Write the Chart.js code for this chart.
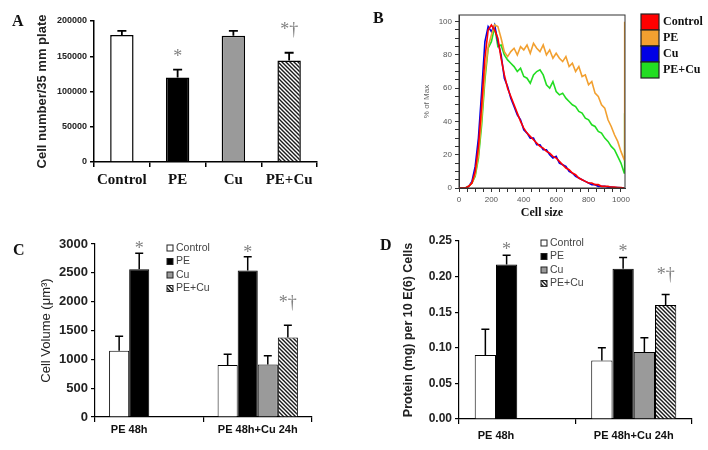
<!DOCTYPE html>
<html>
<head>
<meta charset="utf-8">
<script src="https://cdn.jsdelivr.net/npm/chart.js@4.4.1/dist/chart.umd.min.js"></script>
<style>
  body { margin: 0; background: #fff; }
  #wrap { position: relative; width: 708px; height: 450px; overflow: hidden; }
  #wrap canvas { position: absolute; }
  .tag { position: absolute; font: bold 16px 'Liberation Serif', serif; line-height: 16px; color: #111; }
</style>
</head>
<body>
<div id="wrap">
  <canvas id="chartA" width="354" height="225" style="left:0;top:0"></canvas>
  <canvas id="chartB" width="354" height="225" style="left:354px;top:0"></canvas>
  <canvas id="chartC" width="354" height="225" style="left:0;top:225px"></canvas>
  <canvas id="chartD" width="354" height="225" style="left:354px;top:225px"></canvas>
  <div class="tag" style="left:12px;top:13px">A</div>
  <div class="tag" style="left:373px;top:10px">B</div>
  <div class="tag" style="left:13px;top:242px">C</div>
  <div class="tag" style="left:380px;top:237px">D</div>
</div>
<script>
// panel A: cell number
const groupsA = ['Control', 'PE', 'Cu', 'PE+Cu'];
const cellNumber = [180000, 120000, 179000, 144000];
const cellNumberErr = [6000, 11000, 7000, 11000];
const cellNumberMarks = ['', '*', '', '*†'];
const cellNumberTicks = [0, 50000, 100000, 150000, 200000];

// panel B: flow cytometry histogram (% of max)
const histSize = [0,20,40,60,80,100,120,140,160,180,200,220,240,260,280,300,320,340,360,380,400,420,440,460,480,500,520,540,560,580,600,620,640,660,680,700,720,740,760,780,800,820,840,860,880,900,920,940,960,980,1000,1020,1023];
const histControl = [0,0,0,1,3,10,25,50,78,95,98,95,90,78,68,60,55,50,45,40,36,33,31,29,27,25,24,22,21,19,18,16,14,12,11,9,8,6,5,4,3,3,2,2,1,1,1,0.5,0.5,0.3,0.2,0,0];
const histPE = [0,0,0,1,3,8,20,42,68,85,92,98,97,90,82,79,82,84,80,85,83,86,81,87,84,82,86,80,83,78,81,78,76,79,73,75,70,73,67,68,62,64,57,55,50,48,41,37,32,28,22,17,100];
const histCu = [0,0,0,1,4,13,30,58,88,97,94,98,88,80,66,61,54,49,44,41,35,33,30,30,26,26,23,23,20,18,19,15,14,13,10,9,7,6,5,4,3,2,2,1,1,1,0.5,0.5,0.3,0.2,0.1,0,0];
const histPECu = [0,0,0,1,3,7,18,38,65,84,88,97,85,86,80,77,75,73,70,72,67,66,63,68,70,71,68,62,60,64,58,56,57,54,52,50,49,46,45,42,41,38,37,34,33,30,28,25,23,19,15,9,45];
const histTicksX = [0, 200, 400, 600, 800, 1000];
const histTicksY = [0, 20, 40, 60, 80, 100];

// panels C and D: two treatment groups, four series
const groupsCD = ['PE 48h', 'PE 48h+Cu 24h'];
const seriesNames = ['Control', 'PE', 'Cu', 'PE+Cu'];

const volControl = [1150, 900];
const volPE = [2560, 2540];
const volCu = [null, 910];
const volPECu = [null, 1380];
const volControlErr = [250, 190];
const volPEErr = [280, 240];
const volCuErr = [null, 150];
const volPECuErr = [null, 210];

const protControl = [0.09, 0.082];
const protPE = [0.217, 0.211];
const protCu = [null, 0.094];
const protPECu = [null, 0.16];
const protControlErr = [0.036, 0.018];
const protPEErr = [0.013, 0.016];
const protCuErr = [null, 0.02];
const protPECuErr = [null, 0.015];

const peMarks = ['*', '*'];
const peCuMarks = [null, '*†'];

const SANS = "'Liberation Sans', Arial, sans-serif";
const SERIF = "'Liberation Serif', 'Times New Roman', serif";

function hatch() {
  const c = document.createElement('canvas');
  c.width = 4; c.height = 4;
  const g = c.getContext('2d');
  g.fillStyle = '#fff';
  g.fillRect(0, 0, 4, 4);
  g.strokeStyle = '#1a1a1a';
  g.lineWidth = 1.4;
  g.beginPath();
  g.moveTo(-1, -1); g.lineTo(5, 5);
  g.moveTo(-1, 3); g.lineTo(1, 5);
  g.moveTo(3, -1); g.lineTo(5, 1);
  g.stroke();
  return g.createPattern(c, 'repeat');
}
const hatchFill = hatch();

// upward error bars plus significance marks
const errorBars = {
  id: 'errorBars',
  afterDatasetsDraw(chart, args, opts) {
    const ctx = chart.ctx, y = chart.scales.y;
    chart.data.datasets.forEach((ds, i) => {
      if (!ds.errors) return;
      chart.getDatasetMeta(i).data.forEach((bar, j) => {
        const v = ds.data[j], e = ds.errors[j];
        if (v == null || e == null) return;
        const top = y.getPixelForValue(v + e);
        ctx.save();
        ctx.strokeStyle = '#000';
        ctx.lineWidth = opts.width;
        ctx.beginPath();
        ctx.moveTo(bar.x, bar.y);
        ctx.lineTo(bar.x, top);
        ctx.moveTo(bar.x - opts.cap, top);
        ctx.lineTo(bar.x + opts.cap, top);
        ctx.stroke();
        const m = ds.marks && ds.marks[j];
        if (m) {
          ctx.fillStyle = '#808080';
          ctx.font = opts.markFont;
          ctx.textAlign = 'center';
          ctx.textBaseline = 'alphabetic';
          ctx.fillText(m, bar.x, top + (m.includes('†') ? opts.daggerOffset : opts.starOffset));
        }
        ctx.restore();
      });
    });
  }
};

// category labels centred under the bars that are present
const groupNames = {
  id: 'groupNames',
  afterDraw(chart, args, opts) {
    if (!opts.show) return;
    const ctx = chart.ctx, x = chart.scales.x;
    ctx.save();
    ctx.font = opts.font;
    ctx.fillStyle = '#111';
    ctx.textAlign = 'center';
    ctx.textBaseline = 'middle';
    chart.data.labels.forEach((lab, j) => {
      let lo = Infinity, hi = -Infinity;
      chart.data.datasets.forEach((ds, i) => {
        if (ds.data[j] == null) return;
        const b = chart.getDatasetMeta(i).data[j].getProps(['x', 'width'], true);
        lo = Math.min(lo, b.x - b.width / 2);
        hi = Math.max(hi, b.x + b.width / 2);
      });
      ctx.fillText(lab, (lo + hi) / 2, x.top + opts.offset);
    });
    ctx.restore();
  }
};

// small square legend drawn at a fixed spot
const boxLegend = {
  id: 'boxLegend',
  afterDraw(chart, args, opts) {
    if (!opts.show) return;
    const ctx = chart.ctx;
    ctx.save();
    ctx.font = opts.font;
    ctx.textBaseline = 'middle';
    ctx.textAlign = 'left';
    chart.data.datasets.forEach((ds, i) => {
      const yy = opts.y + i * opts.row;
      ctx.fillStyle = opts.useLine ? ds.borderColor : ds.backgroundColor;
      ctx.fillRect(opts.x, yy - opts.h / 2, opts.w, opts.h);
      ctx.strokeStyle = opts.edge;
      ctx.lineWidth = opts.edgeWidth;
      ctx.strokeRect(opts.x, yy - opts.h / 2, opts.w, opts.h);
      ctx.fillStyle = opts.color;
      ctx.fillText(ds.label, opts.x + opts.w + opts.gap, yy + opts.textDy);
    });
    ctx.restore();
  }
};

const frameBox = {
  id: 'frameBox',
  afterDraw(chart, args, opts) {
    if (!opts.show) return;
    const a = chart.chartArea, ctx = chart.ctx;
    ctx.save();
    ctx.strokeStyle = '#333';
    ctx.lineWidth = 1;
    ctx.strokeRect(a.left, a.top, a.right - a.left, a.bottom - a.top);
    ctx.restore();
  }
};

Chart.register(errorBars, groupNames, boxLegend, frameBox);

function fixWidth(w) {
  return function (s) { s.width = w; s.paddingTop = 0; s.paddingBottom = 0; };
}
function fixHeight(h) {
  return function (s) { s.height = h; s.paddingLeft = 0; s.paddingRight = 0; };
}
// labelled ticks plus unlabelled minor ticks in between
function withMinor(major, parts) {
  return function (s) {
    const out = [];
    for (let k = 0; k < major.length - 1; k++) {
      const a = major[k], b = major[k + 1];
      for (let p = 0; p < parts; p++) out.push({ value: a + (b - a) * p / parts });
    }
    out.push({ value: major[major.length - 1] });
    s.ticks = out;
  };
}

// ---------- A ----------
new Chart(document.getElementById('chartA'), {
  type: 'bar',
  data: {
    labels: groupsA,
    datasets: [{
      data: cellNumber,
      errors: cellNumberErr,
      marks: cellNumberMarks,
      backgroundColor: ['#ffffff', '#000000', '#9a9a9a', hatchFill],
      borderColor: '#000',
      borderWidth: 1.5,
      barPercentage: 0.42,
      categoryPercentage: 1
    }]
  },
  options: {
    responsive: false,
    animation: false,
    layout: { padding: { left: 0, top: 21, right: 37, bottom: 33 } },
    plugins: {
      legend: { display: false },
      tooltip: { enabled: false },
      errorBars: { width: 1.8, cap: 4.5, markFont: '18px ' + SERIF, starOffset: -8, daggerOffset: -18 }
    },
    scales: {
      x: {
        afterFit: fixHeight(30),
        grid: { drawOnChartArea: false, tickLength: 5, color: '#000', lineWidth: 1.5 },
        border: { color: '#000', width: 1.5 },
        ticks: { color: '#111', padding: 4, maxRotation: 0, autoSkip: false, font: { family: SERIF, size: 15, weight: 'bold' } }
      },
      y: {
        min: 0, max: 200000,
        afterFit: fixWidth(94),
        afterBuildTicks: s => { s.ticks = cellNumberTicks.map(v => ({ value: v })); },
        grid: { drawOnChartArea: false, tickLength: 4, color: '#000', lineWidth: 1.5 },
        border: { color: '#000', width: 1.5 },
        ticks: { color: '#222', padding: 3, font: { family: SANS, size: 9, weight: 'bold' }, callback: v => String(v) },
        title: { display: true, text: 'Cell number/35 mm plate', color: '#222', padding: { top: 35, bottom: 0 }, font: { family: SANS, size: 13, weight: 'bold' } }
      }
    }
  }
});

// ---------- B ----------
function pts(ys) { return histSize.map((x, i) => ({ x: x, y: ys[i] })); }
new Chart(document.getElementById('chartB'), {
  type: 'line',
  data: {
    datasets: [
      { label: 'Control', data: pts(histControl), borderColor: '#ff0000' },
      { label: 'PE', data: pts(histPE), borderColor: '#f2a030' },
      { label: 'Cu', data: pts(histCu), borderColor: '#0000e6' },
      { label: 'PE+Cu', data: pts(histPECu), borderColor: '#22dd22' }
    ]
  },
  options: {
    responsive: false,
    animation: false,
    elements: { point: { radius: 0 }, line: { borderWidth: 1.6, tension: 0 } },
    layout: { padding: { left: 0, top: 15, right: 83, bottom: 0 } },
    plugins: {
      legend: { display: false },
      tooltip: { enabled: false },
      frameBox: { show: true },
      boxLegend: { show: true, useLine: true, x: 287, y: 22, row: 16, w: 18, h: 16, gap: 4, textDy: 0,
        edge: '#222', edgeWidth: 1.2, color: '#111', font: 'bold 12px ' + SERIF }
    },
    scales: {
      x: {
        type: 'linear', min: 0, max: 1025,
        afterFit: fixHeight(37),
        afterBuildTicks: withMinor(histTicksX, 4),
        grid: { drawOnChartArea: false, tickLength: 4, color: '#333' },
        border: { color: '#333' },
        ticks: { color: '#555', padding: 3, maxRotation: 0, autoSkip: false, font: { family: SANS, size: 8 },
          callback: v => (histTicksX.includes(v) ? String(v) : '') },
        title: { display: true, text: 'Cell size', color: '#111', padding: { top: 0, bottom: 5 }, font: { family: SERIF, size: 12, weight: 'bold' } }
      },
      y: {
        min: 0, max: 104,
        afterFit: fixWidth(105),
        afterBuildTicks: withMinor(histTicksY, 4),
        grid: { drawOnChartArea: false, tickLength: 4, color: '#333' },
        border: { color: '#333' },
        ticks: { color: '#555', padding: 3, autoSkip: false, font: { family: SANS, size: 8 },
          callback: v => (histTicksY.includes(v) ? String(v) : '') },
        title: { display: true, text: '% of Max', color: '#666', padding: { top: 68, bottom: 0 }, font: { family: SANS, size: 8 } }
      }
    }
  }
});

// ---------- C and D ----------
function groupedBars(canvasId, vals, errs, cfg) {
  const fills = ['#ffffff', '#000000', '#9a9a9a', hatchFill];
  const marks = [null, peMarks, null, peCuMarks];
  new Chart(document.getElementById(canvasId), {
    type: 'bar',
    data: {
      labels: groupsCD,
      datasets: seriesNames.map((name, i) => ({
        label: name,
        data: vals[i],
        errors: errs[i],
        marks: marks[i],
        backgroundColor: fills[i],
        borderColor: '#000',
        borderWidth: 1,
        barPercentage: 1,
        categoryPercentage: cfg.catPct
      }))
    },
    options: {
      responsive: false,
      animation: false,
      layout: { padding: cfg.padding },
      plugins: {
        legend: { display: false },
        tooltip: { enabled: false },
        errorBars: { width: 1.5, cap: 4, markFont: '18px ' + SERIF, starOffset: cfg.starOffset, daggerOffset: cfg.daggerOffset },
        groupNames: { show: true, font: 'bold 11px ' + SANS, offset: cfg.labelOffset },
        boxLegend: { show: true, useLine: false, x: cfg.legendX, y: cfg.legendY, row: 13.5, w: 6, h: 6, gap: 3, textDy: 0,
          edge: '#222', edgeWidth: 1, color: '#444', font: '10.5px ' + SANS }
      },
      scales: {
        x: {
          afterFit: fixHeight(cfg.xHeight),
          grid: { drawOnChartArea: false, tickLength: 5, color: '#000', lineWidth: 1.2 },
          border: { color: '#000', width: 1.2 },
          ticks: { display: false }
        },
        y: {
          min: 0, max: cfg.max,
          afterFit: fixWidth(cfg.yWidth),
          grid: { drawOnChartArea: false, tickLength: 4, color: '#000', lineWidth: 1.2 },
          border: { color: '#000', width: 1.2 },
          ticks: { stepSize: cfg.step, color: '#222', padding: 3, font: { family: SANS, size: cfg.tickSize, weight: 'bold' }, callback: cfg.fmt },
          title: { display: true, text: cfg.title, color: '#222', padding: { top: cfg.titlePad, bottom: 0 },
            font: { family: SANS, size: cfg.titleSize, weight: cfg.titleWeight } }
        }
      }
    }
  });
}

groupedBars('chartC',
  [volControl, volPE, volCu, volPECu],
  [volControlErr, volPEErr, volCuErr, volPECuErr],
  { padding: { left: 0, top: 19, right: 42, bottom: 0 }, xHeight: 33, yWidth: 95, catPct: 0.74,
    max: 3000, step: 500, fmt: v => String(v), tickSize: 13,
    title: 'Cell Volume (μm³)', titleSize: 13, titleWeight: 'normal', titlePad: 39,
    starOffset: 1, daggerOffset: -17, labelOffset: 13, legendX: 167, legendY: 23 });

groupedBars('chartD',
  [protControl, protPE, protCu, protPECu],
  [protControlErr, protPEErr, protCuErr, protPECuErr],
  { padding: { left: 0, top: 16, right: 16, bottom: 0 }, xHeight: 31, yWidth: 105, catPct: 0.73,
    max: 0.25, step: 0.05, fmt: v => v.toFixed(2), tickSize: 12,
    title: 'Protein (mg) per 10 E(6) Cells', titleSize: 12.5, titleWeight: 'bold', titlePad: 47.5,
    starOffset: 0, daggerOffset: -14, labelOffset: 17, legendX: 187, legendY: 18 });
</script>
</body>
</html>
